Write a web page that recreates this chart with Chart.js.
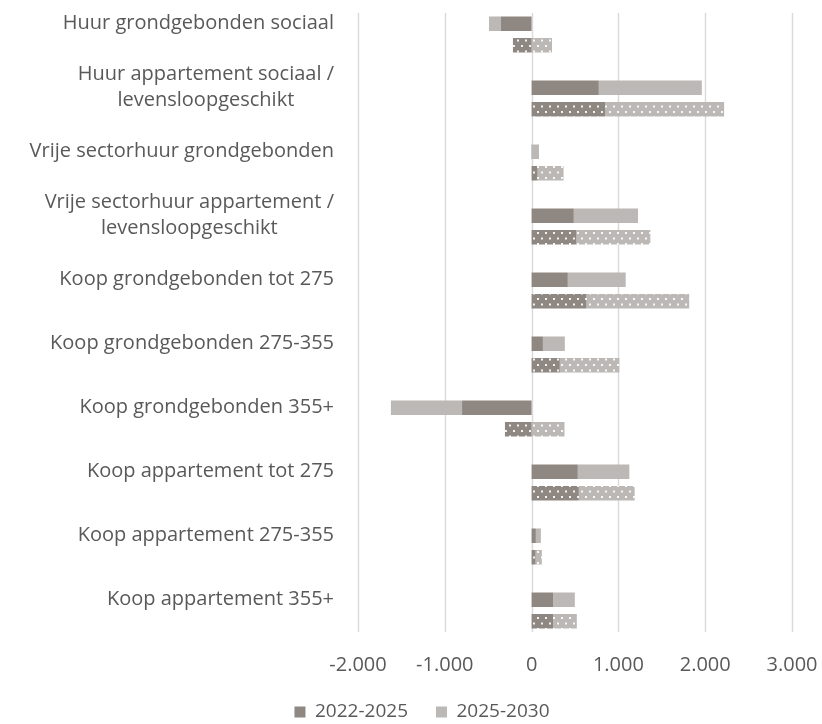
<!DOCTYPE html>
<html>
<head>
<meta charset="utf-8">
<script src="https://cdn.jsdelivr.net/npm/chart.js@4/dist/chart.umd.min.js"></script>
<style>
  html, body { margin: 0; padding: 0; background: #ffffff; overflow: hidden; }
  #wrap { width: 822px; height: 724px; position: relative; }
</style>
</head>
<body>
<div id="wrap"><canvas id="chart"></canvas></div>
<script>
// Housing categories (two-line names are given as arrays)
const categories = [
  'Huur grondgebonden sociaal',
  ['Huur appartement sociaal /', 'levensloopgeschikt'],
  'Vrije sectorhuur grondgebonden',
  ['Vrije sectorhuur appartement /', 'levensloopgeschikt'],
  'Koop grondgebonden tot 275',
  'Koop grondgebonden 275-355',
  'Koop grondgebonden 355+',
  'Koop appartement tot 275',
  'Koop appartement 275-355',
  'Koop appartement 355+'
];

const periods = ['2022-2025', '2025-2030'];

// Upper (solid) bars
const solid2022 = [-353, 774, 5, 486, 417, 130, -801, 532, 49, 249];
const solid2025 = [-138, 1187, 80, 740, 667, 253, -820, 594, 58, 249];

// Lower (dotted) bars
const dotted2022 = [-215, 850, 69, 517, 632, 325, -307, 544, 46, 249];
const dotted2025 = [235, 1368, 299, 851, 1184, 686, 379, 643, 72, 272];

// Value axis ticks
const xTicks = [-2000, -1000, 0, 1000, 2000, 3000];

const DARK = '#8f8781';
const LIGHT = '#bcb8b5';
const TEXT = '#595959';
const FONT = '"Open Sans", sans-serif';

function dotPattern(color) {
  const c = document.createElement('canvas');
  c.width = 8; c.height = 11;
  const g = c.getContext('2d');
  g.fillStyle = color;
  g.fillRect(0, 0, 8, 11);
  g.fillStyle = 'rgba(255,255,255,0.9)';
  g.fillRect(1, 1, 2, 2);
  g.fillRect(5, 6.5, 2, 2);
  return g.createPattern(c, 'repeat');
}

function fmt(v) {
  const s = Math.abs(v).toString().replace(/\B(?=(\d{3})+(?!\d))/g, '.');
  return (v < 0 ? '-' : '') + s;
}

// Vertical grid lines, slightly inset from the category band edges
const trimmedGrid = {
  id: 'trimmedGrid',
  beforeDatasetsDraw(chart) {
    const { ctx, chartArea, scales } = chart;
    const inset = 10.5;
    ctx.save();
    ctx.strokeStyle = '#d9d9d9';
    ctx.lineWidth = 1.4;
    xTicks.forEach(v => {
      const x = Math.round(scales.x.getPixelForValue(v)) + 0.5;
      ctx.beginPath();
      ctx.moveTo(x, chartArea.top + inset);
      ctx.lineTo(x, chartArea.bottom - inset);
      ctx.stroke();
    });
    ctx.restore();
  }
};

// Category names: block right-aligned to the plot, lines centred inside it
const categoryLabels = {
  id: 'categoryLabels',
  afterDraw(chart) {
    const { ctx, chartArea, scales } = chart;
    const y = scales.y;
    const lineH = 26;
    ctx.save();
    ctx.font = '20px ' + FONT;
    ctx.fillStyle = TEXT;
    ctx.textAlign = 'center';
    ctx.textBaseline = 'middle';
    categories.forEach((lab, i) => {
      const lines = Array.isArray(lab) ? lab : [lab];
      const w = Math.max(...lines.map(l => ctx.measureText(l).width));
      const cx = chartArea.left - 24 - w / 2;
      const cy = y.getPixelForValue(i) - 11;
      lines.forEach((l, j) => {
        ctx.fillText(l, cx, cy + (j - (lines.length - 1) / 2) * lineH);
      });
    });
    ctx.restore();
  }
};

new Chart(document.getElementById('chart'), {
  type: 'bar',
  data: {
    labels: categories,
    datasets: [
      { label: periods[0], data: solid2022, backgroundColor: DARK, stack: 'solid' },
      { label: periods[1], data: solid2025, backgroundColor: LIGHT, stack: 'solid' },
      { label: periods[0] + ' ', data: dotted2022, backgroundColor: dotPattern(DARK), stack: 'dotted' },
      { label: periods[1] + ' ', data: dotted2025, backgroundColor: dotPattern(LIGHT), stack: 'dotted' }
    ]
  },
  options: {
    indexAxis: 'y',
    responsive: true,
    maintainAspectRatio: false,
    animation: false,
    categoryPercentage: 0.667,
    barPercentage: 0.68,
    layout: { padding: { left: 22, right: 0, top: 2.5, bottom: -7.5 } },
    scales: {
      x: {
        stacked: true,
        min: -2000,
        max: 3000,
        afterBuildTicks(axis) { axis.ticks = xTicks.map(v => ({ value: v })); },
        afterFit(axis) {
          axis.height = 32;
          axis.paddingLeft = 0;
          axis.paddingRight = 30;
        },
        grid: { display: false, drawTicks: false },
        border: { display: false },
        ticks: {
          padding: 10.5,
          maxRotation: 0,
          color: TEXT,
          font: { family: FONT, size: 20 },
          callback: v => fmt(v)
        }
      },
      y: {
        stacked: true,
        afterFit(axis) { axis.width = 336; },
        grid: { display: false, drawTicks: false },
        border: { display: false },
        ticks: { display: false }
      }
    },
    plugins: {
      legend: {
        position: 'bottom',
        labels: {
          filter: item => item.datasetIndex < 2,
          boxWidth: 11,
          boxHeight: 11,
          padding: 28,
          color: TEXT,
          font: { family: FONT, size: 19 }
        }
      },
      tooltip: { enabled: false }
    }
  },
  plugins: [trimmedGrid, categoryLabels]
});
</script>
</body>
</html>
